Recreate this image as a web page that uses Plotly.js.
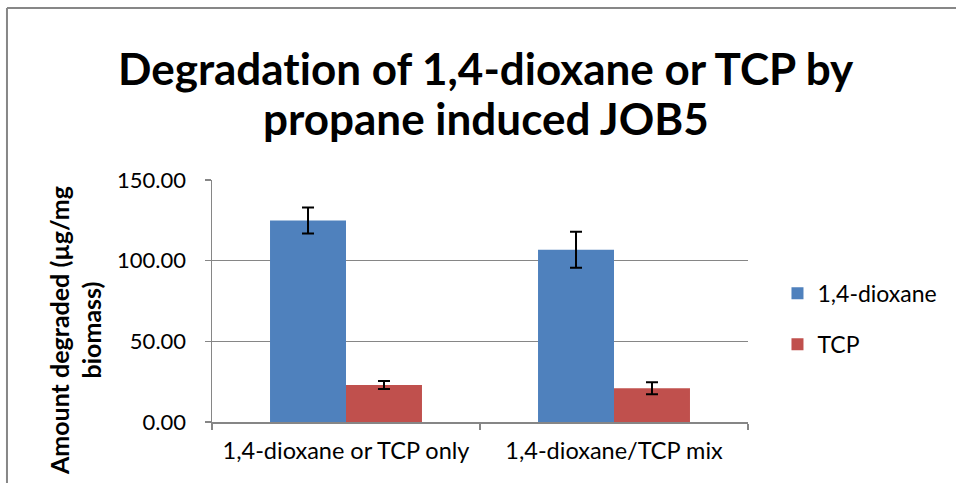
<!DOCTYPE html>
<html>
<head>
<meta charset="utf-8">
<script src="https://cdn.plot.ly/plotly-3.0.1.min.js"></script>
<style>
html,body{margin:0;padding:0;background:#fff;}
#chart{width:956px;height:483px;}
text{font-variant-ligatures:none;font-feature-settings:"liga" 0,"clig" 0;}
</style>
</head>
<body>
<div id="chart"></div>
<script>
var categories = ["1,4-dioxane or TCP only", "1,4-dioxane/TCP mix"];
var seriesNames = ["1,4-dioxane", "TCP"];
var dioxaneValues = [124.9, 106.8];
var dioxaneErrors = [8.0, 11.2];
var tcpValues = [22.9, 20.9];
var tcpErrors = [2.5, 3.7];
var yTickValues = [0, 50, 100, 150];
var titleLines = ["Degradation of 1,4-dioxane or TCP by", "propane induced JOB5"];
var yTitle = "Amount degraded (µg/mg<br>biomass)";

var FONT = "Lato, 'Open Sans', sans-serif";
var errStyle = {type: "data", visible: true, color: "#000000", thickness: 2, width: 6};

var traces = [
  {type: "bar", name: seriesNames[0], x: categories, y: dioxaneValues, legendgroup: "a",
   marker: {color: "#4F81BD"},
   error_y: Object.assign({array: dioxaneErrors}, errStyle)},
  {type: "bar", name: seriesNames[1], x: categories, y: tcpValues, legendgroup: "b",
   marker: {color: "#C0504D"},
   error_y: Object.assign({array: tcpErrors}, errStyle)}
];

var layout = {
  width: 956, height: 483,
  margin: {l: 212, r: 208, t: 180, b: 61},
  paper_bgcolor: "#ffffff", plot_bgcolor: "#ffffff",
  font: {family: FONT, color: "#000000", size: 22},
  barmode: "group", bargap: 0.433, bargroupgap: 0,
  showlegend: true,
  legend: {x: 1.055, y: 0.426, xanchor: "left", yanchor: "middle",
           font: {family: FONT, size: 23, color: "#000"}, tracegroupgap: 18,
           itemwidth: 30, bgcolor: "rgba(0,0,0,0)"},
  xaxis: {type: "category", tickson: "boundaries", ticks: "outside", ticklen: 6,
          tickcolor: "#868686", tickwidth: 1.5, ticklabelstandoff: 7,
          showline: true, linecolor: "#868686", linewidth: 1.5,
          showgrid: false, tickfont: {family: FONT, size: 23.5, color: "#000"}},
  yaxis: {range: [0, 150], tickvals: yTickValues, tickformat: ".2f",
          ticks: "outside", ticklen: 6, tickcolor: "#868686", tickwidth: 1.5,
          ticklabelstandoff: 14,
          showline: true, linecolor: "#868686", linewidth: 1.5,
          showgrid: true, gridcolor: "#868686", gridwidth: 1.5,
          zeroline: false, tickfont: {family: FONT, size: 22, color: "#000"}},
  annotations: [
    {text: "<b>" + titleLines[0] + "</b>", xref: "paper", yref: "paper", x: 0.511, y: 1.463,
     xanchor: "center", yanchor: "middle", showarrow: false,
     font: {family: FONT, size: 44, color: "#000"}},
    {text: "<b>" + titleLines[1] + "</b>", xref: "paper", yref: "paper", x: 0.511, y: 1.256,
     xanchor: "center", yanchor: "middle", showarrow: false,
     font: {family: FONT, size: 44, color: "#000"}},
    {text: "<b>" + yTitle + "</b>",
     xref: "paper", yref: "paper", x: -0.2556, y: 0.38,
     xanchor: "center", yanchor: "middle", textangle: -90, showarrow: false,
     font: {family: FONT, size: 25, color: "#000"}}
  ],
  shapes: [
    {type: "line", xref: "paper", yref: "paper", x0: -0.3825, x1: -0.3825, y0: 1.7107, y1: -0.4,
     line: {color: "#878787", width: 2}},
    {type: "line", xref: "paper", yref: "paper", x0: -0.3825, x1: 1.6, y0: 1.7107, y1: 1.7107,
     line: {color: "#878787", width: 2}}
  ]
};

Plotly.newPlot("chart", traces, layout, {displayModeBar: false, staticPlot: true});
</script>
</body>
</html>
